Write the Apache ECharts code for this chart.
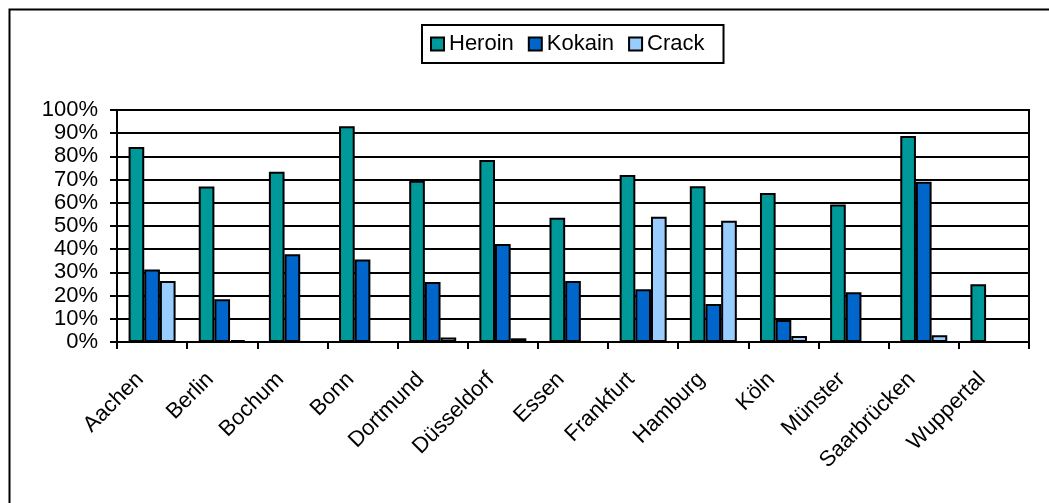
<!DOCTYPE html>
<html>
<head>
<meta charset="utf-8">
<script src="https://cdn.jsdelivr.net/npm/echarts@6/dist/echarts.min.js"></script>
<style>
html,body{margin:0;padding:0;background:#fff;}
#chart{width:1049px;height:503px;}
</style>
</head>
<body>
<div id="chart"></div>
<script>
var categories = ["Aachen","Berlin","Bochum","Bonn","Dortmund","Düsseldorf","Essen","Frankfurt","Hamburg","Köln","Münster","Saarbrücken","Wuppertal"];
var heroin = [84, 67, 73.4, 93, 69.5, 78.4, 53.6, 72, 67.1, 64.2, 59.3, 88.8, 24.9];
var kokain = [31.3, 18.4, 37.8, 35.6, 25.9, 42.2, 26.3, 22.7, 16.4, 9.5, 21.4, 69.1, 0];
var crack = [26.3, 0.8, 0, 0, 1.9, 1.6, 0, 54, 52.3, 2.6, 0, 2.9, 0];
var seriesNames = ["Heroin","Kokain","Crack"];
var yTicks = {min: 0, max: 100, interval: 10};

var FONT = 'Arial, "Liberation Sans", sans-serif';
var chart = echarts.init(document.getElementById('chart'), null, {renderer: 'canvas'});
function nz(arr){ return arr.map(function(v){ return v === 0 ? '-' : v; }); }
var barStyle = function(c){ return {color: c, borderColor: '#000', borderWidth: 2}; };
chart.setOption({
  animation: false,
  backgroundColor: '#fff',
  graphic: [{
    type: 'rect', left: 7, top: 7,
    shape: {width: 1100, height: 600},
    style: {fill: 'none', stroke: '#000', lineWidth: 2}
  }],
  legend: {
    left: 422, top: 25,
    padding: [8, 19, 8, 8],
    borderColor: '#000', borderWidth: 2,
    itemWidth: 13, itemHeight: 13, itemGap: 14, itemTextGap: 8,
    icon: 'rect',
    textStyle: {fontFamily: FONT, fontSize: 22, color: '#000'},
    data: seriesNames
  },
  grid: {
    left: 117, right: 20, top: 110, bottom: 161,
    show: true, borderColor: '#000', borderWidth: 2
  },
  xAxis: {
    type: 'category',
    data: categories,
    axisLine: {lineStyle: {color: '#000', width: 2}},
    axisTick: {show: true, length: 7, lineStyle: {color: '#000', width: 2}},
    axisLabel: {rotate: 45, margin: 22, interval: 0, align: 'right', padding: [0, 17, 0, 0], fontFamily: FONT, fontSize: 22, color: '#000'}
  },
  yAxis: {
    type: 'value',
    min: yTicks.min, max: yTicks.max, interval: yTicks.interval,
    axisLine: {show: true, lineStyle: {color: '#000', width: 2}},
    axisTick: {show: true, length: 7, lineStyle: {color: '#000', width: 2}},
    splitLine: {lineStyle: {color: '#000', width: 2}},
    axisLabel: {formatter: '{value}%', fontFamily: FONT, fontSize: 22, color: '#000', margin: 19}
  },
  series: [
    {name: seriesNames[0], type: 'bar', data: heroin, barGap: '0%', barCategoryGap: '33%', itemStyle: barStyle('#009999')},
    {name: seriesNames[1], type: 'bar', data: nz(kokain), barGap: '0%', barCategoryGap: '33%', itemStyle: barStyle('#0066CC')},
    {name: seriesNames[2], type: 'bar', data: nz(crack), barGap: '0%', barCategoryGap: '33%', itemStyle: barStyle('#99CCFF')}
  ]
});
</script>
</body>
</html>
